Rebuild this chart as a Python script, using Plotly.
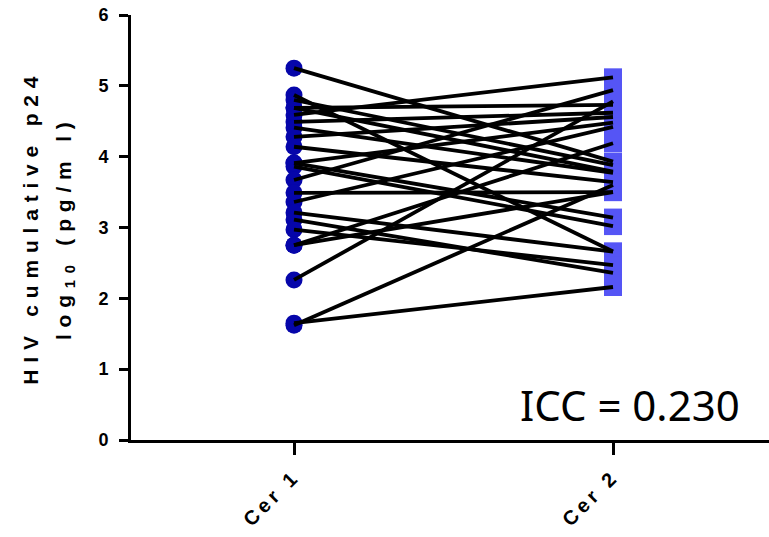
import plotly.graph_objects as go

categories = ["Cer 1", "Cer 2"]
cer1 = [5.25, 4.87, 4.80, 4.69, 4.69, 4.59, 4.49, 4.41, 4.28, 4.14, 3.91, 3.86,
        3.91, 3.67, 3.49, 3.36, 3.21, 3.11, 2.97, 2.75, 2.75, 2.26, 1.62, 1.65]
cer2 = [3.93, 2.66, 3.88, 4.73, 3.79, 5.12, 4.62, 3.77, 4.56, 3.64, 3.14, 3.02,
        4.48, 4.94, 3.50, 4.42, 2.66, 2.36, 2.47, 4.19, 3.50, 4.78, 3.60, 2.16]
y_ticks = [0, 1, 2, 3, 4, 5, 6]
icc_text = "ICC = 0.230"

fig = go.Figure()
fig.add_trace(go.Scatter(x=[1] * len(cer1), y=cer1, mode="markers",
                         marker=dict(symbol="circle", size=17, color="#0606AA", line=dict(width=0)),
                         showlegend=False, hoverinfo="skip"))
fig.add_trace(go.Scatter(x=[2] * len(cer2), y=cer2, mode="markers",
                         marker=dict(symbol="square", size=18, color="#5555F5", line=dict(width=0)),
                         showlegend=False, hoverinfo="skip"))
for a, b in zip(cer1, cer2):
    fig.add_trace(go.Scatter(x=[1, 2], y=[a, b], mode="lines",
                             line=dict(color="black", width=3.8),
                             showlegend=False, hoverinfo="skip"))

title_font = dict(family="Liberation Sans", size=21, color="black", weight="bold")
fig.add_annotation(text="HIV cumulative p24", xref="paper", yref="paper",
                   x=0, y=0.5, xanchor="center", yanchor="middle", xshift=-101,
                   textangle=-90, showarrow=False, font=title_font)
fig.add_annotation(text="log<sub>10</sub> (pg/m l)", xref="paper", yref="paper",
                   x=0, y=0.5, xanchor="center", yanchor="middle", xshift=-67,
                   textangle=-90, showarrow=False, font=title_font)
fig.add_annotation(text=icc_text, x=2, y=0.5, xshift=17, showarrow=False,
                   xanchor="center", yanchor="middle",
                   font=dict(family="Noto Sans", size=42, color="black"))

fig.update_layout(
    width=769, height=537,
    margin=dict(l=131, r=0, t=15, b=97),
    paper_bgcolor="white", plot_bgcolor="white",
    xaxis=dict(range=[0.489, 2.489], tickvals=[1, 2], ticktext=categories,
               tickangle=-45, showline=True, linewidth=3, linecolor="black",
               ticks="outside", ticklen=12, tickwidth=3, tickcolor="black",
               ticklabelstandoff=2, ticklabeloverflow="allow", automargin=False,
               showgrid=False, zeroline=False,
               tickfont=dict(family="Liberation Sans", size=20, color="black", weight="bold")),
    yaxis=dict(range=[0, 6], tickvals=y_ticks, showline=True, linewidth=3, linecolor="black",
               ticks="outside", ticklen=9, tickwidth=3, tickcolor="black",
               ticklabelstandoff=7, ticklabeloverflow="allow", automargin=False,
               showgrid=False, zeroline=False,
               tickfont=dict(family="Liberation Sans", size=18, color="black", weight="bold")),
)

post_script = """
document.body.style.margin = '0';
var gd = document.getElementById('{plot_id}');
function spaceText(){
  gd.querySelectorAll('g.annotation text').forEach(function(t){
    var s = t.textContent;
    if (s.indexOf('HIV') === 0 || s.indexOf('log') === 0) { t.style.letterSpacing = '6.8px'; }
  });
  gd.querySelectorAll('g.xtick text').forEach(function(t){ t.style.letterSpacing = '4px'; });
}
spaceText();
gd.on('plotly_afterplot', spaceText);
"""
fig.write_html("out.html", post_script=post_script,
               config={"displayModeBar": False, "staticPlot": True})
